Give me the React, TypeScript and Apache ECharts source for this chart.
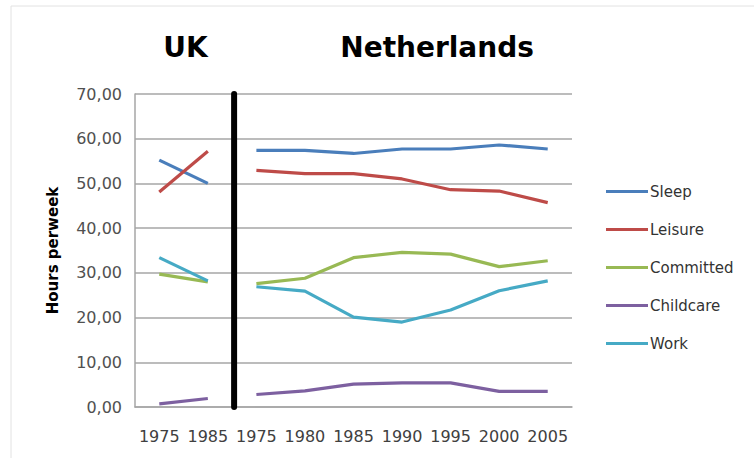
import React, { useEffect, useRef } from "react";
import * as echarts from "echarts";

// Axis ticks
const xTickLabels = ["1975", "1985", "1975", "1980", "1985", "1990", "1995", "2000", "2005"];
const xKeys = ["UK 1975", "UK 1985", "NL 1975", "NL 1980", "NL 1985", "NL 1990", "NL 1995", "NL 2000", "NL 2005"];

// UK values (1975, 1985)
const ukSleep = [55.2, 50.0];
const ukLeisure = [48.1, 57.2];
const ukCommitted = [29.7, 28.0];
const ukChildcare = [0.7, 1.9];
const ukWork = [33.4, 28.2];

// Netherlands values (1975 - 2005)
const nlSleep = [57.4, 57.4, 56.7, 57.7, 57.7, 58.6, 57.7];
const nlLeisure = [52.9, 52.2, 52.2, 51.0, 48.6, 48.3, 45.7];
const nlCommitted = [27.6, 28.8, 33.4, 34.6, 34.2, 31.4, 32.7];
const nlChildcare = [2.8, 3.6, 5.1, 5.4, 5.4, 3.5, 3.5];
const nlWork = [26.9, 25.9, 20.1, 19.0, 21.7, 26.0, 28.2];

const seriesNames = ["Sleep", "Leisure", "Committed", "Childcare", "Work"];
const seriesColors = ["#4a7ebb", "#be4b48", "#98b954", "#7d60a0", "#46aac5"];
const ukData = [ukSleep, ukLeisure, ukCommitted, ukChildcare, ukWork];
const nlData = [nlSleep, nlLeisure, nlCommitted, nlChildcare, nlWork];

const FONT = "DejaVu Sans";

export default function App() {
  const ref = useRef<HTMLDivElement>(null);

  useEffect(() => {
    if (!ref.current) return;
    const chart = echarts.init(ref.current, null, { renderer: "svg" });

    const ukLen = ukSleep.length;
    const series: any[] = [];
    seriesNames.forEach((name, i) => {
      const common = {
        name,
        type: "line",
        symbol: "none",
        smooth: false,
        color: seriesColors[i],
        lineStyle: { width: 3.2, color: seriesColors[i] },
        z: 3,
      };
      series.push({
        ...common,
        data: [...ukData[i], ...nlData[i].map(() => "-")],
      });
      series.push({
        ...common,
        data: [...ukData[i].map(() => "-"), ...nlData[i]],
      });
    });

    chart.setOption({
      animation: false,
      backgroundColor: "#ffffff",
      grid: { left: 135, right: 182, top: 94, bottom: 51 },
      legend: {
        orient: "vertical",
        left: 601,
        top: 179,
        itemWidth: 42,
        itemHeight: 14,
        itemGap: 23,
        data: seriesNames.map((n) => ({ name: n, icon: "path://M0,6 L42,6 L42,9 L0,9 Z" })),
        textStyle: { fontFamily: FONT, fontSize: 15, color: "#333333", padding: [0, 0, 0, -3] },
      },
      xAxis: {
        type: "category",
        data: xKeys,
        boundaryGap: true,
        axisLine: { show: true, lineStyle: { color: "#a6a6a6", width: 1.5 } },
        axisTick: { show: false },
        axisLabel: {
          interval: 0,
          margin: 21,
          fontFamily: FONT,
          fontSize: 16,
          color: "#404040",
          formatter: (_v: string, idx: number) => xTickLabels[idx],
        },
        splitLine: { show: false },
      },
      yAxis: {
        type: "value",
        min: 0,
        max: 70,
        interval: 10,
        name: "Hours perweek",
        nameLocation: "middle",
        nameGap: 75,
        nameRotate: 90,
        nameTextStyle: { fontFamily: FONT, fontSize: 15, fontWeight: "bold", color: "#000000" },
        axisLine: { show: true, lineStyle: { color: "#a6a6a6", width: 1.5 } },
        axisTick: { show: false },
        axisLabel: {
          margin: 13,
          fontFamily: FONT,
          fontSize: 16,
          color: "#505050",
          formatter: (v: number) => v.toFixed(2).replace(".", ","),
        },
        splitLine: { show: true, lineStyle: { color: "#a6a6a6", width: 1.5 } },
      },
      series,
    });

    // Divider between the UK and Netherlands groups, plus the group titles
    const xUKa = chart.convertToPixel({ xAxisIndex: 0 }, 0) as number;
    const xUKb = chart.convertToPixel({ xAxisIndex: 0 }, ukLen - 1) as number;
    const xNLa = chart.convertToPixel({ xAxisIndex: 0 }, ukLen) as number;
    const xNLb = chart.convertToPixel({ xAxisIndex: 0 }, xKeys.length - 1) as number;
    const yTop = chart.convertToPixel({ yAxisIndex: 0 }, 70) as number;
    const yBot = chart.convertToPixel({ yAxisIndex: 0 }, 0) as number;
    const xDiv = (xUKb + xNLa) / 2 + 2;

    chart.setOption({
      graphic: [
        {
          type: "line",
          shape: { x1: 11, y1: 6, x2: 754, y2: 6 },
          style: { stroke: "#e2e2e2", lineWidth: 1 },
          silent: true,
        },
        {
          type: "line",
          shape: { x1: 11, y1: 6, x2: 11, y2: 458 },
          style: { stroke: "#e2e2e2", lineWidth: 1 },
          silent: true,
        },
        {
          type: "line",
          shape: { x1: xDiv, y1: yTop, x2: xDiv, y2: yBot },
          style: { stroke: "#000000", lineWidth: 6, lineCap: "round" },
          z: 10,
        },
        {
          type: "text",
          x: (xUKa + xUKb) / 2 + 2,
          y: 47,
          style: {
            text: "UK",
            fontFamily: FONT,
            fontSize: 28,
            fontWeight: "bold",
            fill: "#000000",
            align: "center",
            verticalAlign: "middle",
          },
        },
        {
          type: "text",
          x: (xNLa + xNLb) / 2 + 35,
          y: 47,
          style: {
            text: "Netherlands",
            fontFamily: FONT,
            fontSize: 28,
            fontWeight: "bold",
            fill: "#000000",
            align: "center",
            verticalAlign: "middle",
          },
        },
      ],
    });

    return () => chart.dispose();
  }, []);

  return (
    <div
      ref={ref}
      style={{ position: "fixed", left: 0, top: 0, width: 754, height: 458 }}
    />
  );
}
